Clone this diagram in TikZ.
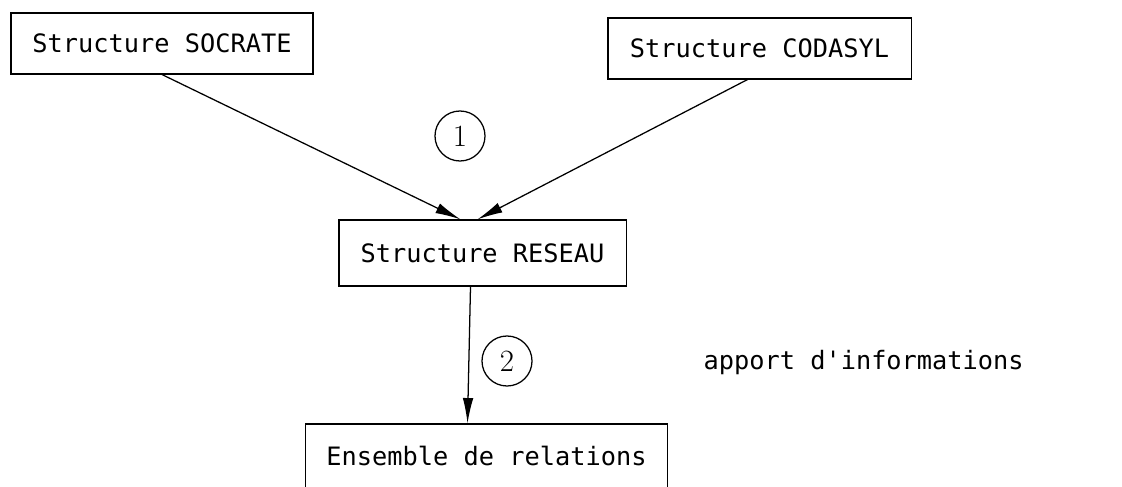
\documentclass[tikz,border=0pt]{standalone}
\usepackage{fontspec}
\setmonofont{DejaVu Sans Mono}
\usetikzlibrary{arrows.meta,calc}
\tikzset{
  structbox/.style={draw, line width=0.9pt, inner sep=0pt, font=\ttfamily\fontsize{18}{20}\selectfont},
  stepnum/.style={draw, circle, line width=0.9pt, minimum size=1.25cm, inner sep=0pt, font=\fontsize{22}{24}\selectfont}
}
\begin{document}
\begin{tikzpicture}[x=0.025cm, y=-0.025cm, >={Latex[length=18pt,width=7.5pt]}, line width=0.9pt]
\useasboundingbox (0,0) rectangle (1122,486);
% Source structures
  \node[structbox, minimum width=7.55cm, minimum height=1.52cm] (socrate) at (162,43.5) {Structure SOCRATE};
  \node[structbox, minimum width=7.58cm, minimum height=1.52cm] (codasyl) at (759.5,48.5) {Structure CODASYL};

% Intermediate structure
  \node[structbox, minimum width=7.18cm, minimum height=1.65cm] (reseau) at (482.5,253) {Structure RESEAU};

% Target (bottom edge runs off the page)
  \node[structbox, minimum width=9.03cm, minimum height=1.6cm] (relations) at (486.5,456) {Ensemble de relations};

% Step numbers
  \node[stepnum] (one) at (460,136) {1};
  \node[stepnum] (two) at (507,361) {2};

% Arrows
  \draw[->] (socrate.south) -- ($(reseau.north)+(-22,0)$);
  \draw[->] ($(codasyl.south)+(-12,0)$) -- ($(reseau.north)+(-5,0)$);
  \draw[->] ($(reseau.south)+(-12,0)$) -- ($(relations.north)+(-19,0)$);

% Side note
  \node[font=\ttfamily\fontsize{18}{20}\selectfont, anchor=west, inner sep=0pt] (apport) at (703,363) {apport d'informations};
\end{tikzpicture}
\end{document}
